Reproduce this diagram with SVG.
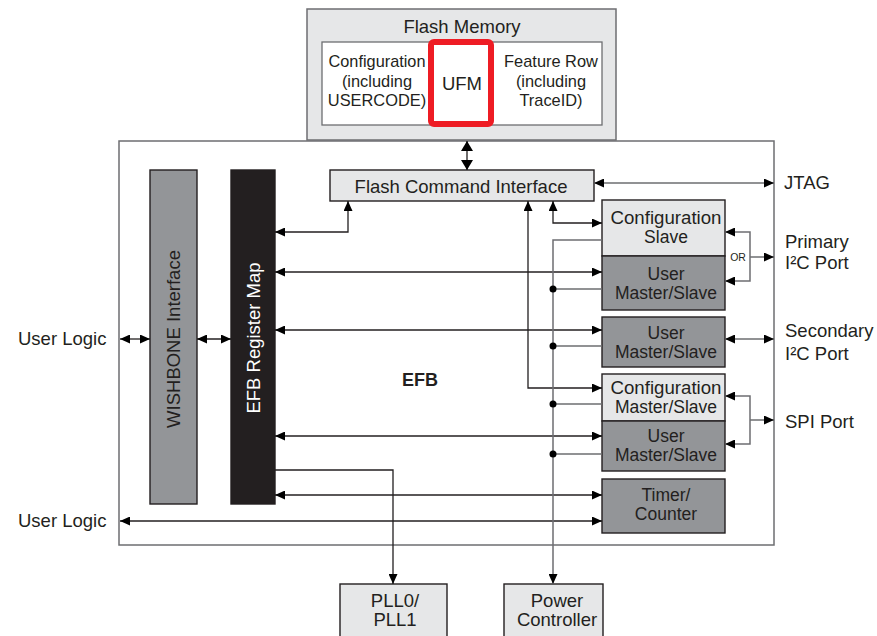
<svg xmlns="http://www.w3.org/2000/svg" width="877" height="636" viewBox="0 0 877 636">
<style>
text{font-family:"Liberation Sans",Arial,Helvetica,sans-serif;fill:#231f20}
.t{font-size:18.5px}
.b{font-size:17.5px}
.s{font-size:16.4px}
.c{text-anchor:middle}
.light{fill:#e6e7e8;stroke:#231f20;stroke-width:1.4}
.mid{fill:#939598;stroke:#231f20;stroke-width:1.4}
.dark{fill:#231f20;stroke:#231f20;stroke-width:1.4}
.k{fill:none;stroke:#231f20;stroke-width:1.3}
.g{fill:none;stroke:#6d6e71;stroke-width:1.5}
</style>
<defs>
<marker id="a" markerUnits="userSpaceOnUse" markerWidth="10" markerHeight="9" refX="10" refY="4.5" orient="auto-start-reverse">
<path d="M0,0 L10,4.5 L0,9 z" fill="#000"/>
</marker>
<marker id="b" markerUnits="userSpaceOnUse" markerWidth="10" markerHeight="12" refX="10" refY="6" orient="auto-start-reverse">
<path d="M0,0 L10,6 L0,12 z" fill="#000"/>
</marker>
</defs>

<g id="flash-memory">
<rect x="307" y="9" width="309" height="131" fill="#e6e7e8" stroke="#6d6e71" stroke-width="1.5"/>
<text class="t c" x="462" y="33">Flash Memory</text>
<rect x="322" y="42" width="280" height="83" fill="#fff" stroke="#6d6e71" stroke-width="1.3"/>
<text class="s c" x="377" y="67" textLength="97" lengthAdjust="spacingAndGlyphs">Configuration</text>
<text class="s c" x="377" y="87">(including</text>
<text class="s c" x="377" y="106">USERCODE)</text>
<rect x="431" y="42" width="60" height="82" rx="3" fill="#fff" stroke="#ee1c24" stroke-width="6"/>
<text class="t c" x="462" y="90">UFM</text>
<text class="s c" x="551" y="67">Feature Row</text>
<text class="s c" x="551" y="87">(including</text>
<text class="s c" x="551" y="106">TraceID)</text>
</g>

<g id="efb">
<rect x="119" y="141" width="655" height="404" fill="#fff" stroke="#6d6e71" stroke-width="1.5"/>
<text x="420" y="386" font-size="18" font-weight="bold" text-anchor="middle">EFB</text>
</g>

<g id="wishbone">
<rect class="mid" x="150" y="170" width="47" height="334"/>
<text class="t c" transform="translate(180,339) rotate(-90)">WISHBONE Interface</text>
</g>

<g id="register-map">
<rect class="dark" x="231" y="170" width="44" height="334"/>
<text class="t c" transform="translate(260,338) rotate(-90)" style="fill:#fff">EFB Register Map</text>
</g>

<g id="flash-command-interface">
<rect class="light" x="330" y="170" width="264" height="31"/>
<text class="t c" x="461" y="193">Flash Command Interface</text>
</g>

<g id="config-slave">
<rect class="light" x="602" y="200" width="123" height="56"/>
<text class="b c" x="666" y="224" textLength="111" lengthAdjust="spacingAndGlyphs">Configuration</text>
<text class="b c" x="666" y="243">Slave</text>
</g>

<g id="user-ms-primary">
<rect class="mid" x="602" y="256" width="123" height="54"/>
<text class="b c" x="666" y="280">User</text>
<text class="b c" x="666" y="299">Master/Slave</text>
</g>

<g id="user-ms-secondary">
<rect class="mid" x="602" y="317" width="123" height="50"/>
<text class="b c" x="666" y="339">User</text>
<text class="b c" x="666" y="358">Master/Slave</text>
</g>

<g id="config-ms">
<rect class="light" x="602" y="374" width="123" height="47"/>
<text class="b c" x="666" y="394" textLength="111" lengthAdjust="spacingAndGlyphs">Configuration</text>
<text class="b c" x="666" y="413">Master/Slave</text>
</g>

<g id="user-ms-spi">
<rect class="mid" x="602" y="421" width="123" height="50"/>
<text class="b c" x="666" y="442">User</text>
<text class="b c" x="666" y="461">Master/Slave</text>
</g>

<g id="timer-counter">
<rect class="mid" x="602" y="479" width="123" height="54"/>
<text class="b c" x="666" y="501">Timer/</text>
<text class="b c" x="666" y="520">Counter</text>
</g>

<g id="pll">
<rect class="light" x="340" y="584" width="107" height="60"/>
<text class="t c" x="395" y="607">PLL0/</text>
<text class="t c" x="395" y="626">PLL1</text>
</g>

<g id="power-controller">
<rect class="light" x="504" y="584" width="99" height="60"/>
<text class="t c" x="557" y="607">Power</text>
<text class="t c" x="557" y="626">Controller</text>
</g>

<g id="labels">
<text class="t" x="18" y="345">User Logic</text>
<text class="t" x="18" y="527">User Logic</text>
<text class="t" x="784" y="189">JTAG</text>
<text class="t" x="785" y="248">Primary</text>
<text class="t" x="785" y="269">I²C Port</text>
<text class="t" x="785" y="337">Secondary</text>
<text class="t" x="785" y="360">I²C Port</text>
<text class="t" x="785" y="428">SPI Port</text>
<text x="738" y="261" font-size="10.5" text-anchor="middle">OR</text>
</g>

<g id="connectors">
<line class="k" x1="467" y1="141" x2="467" y2="170" marker-start="url(#b)" marker-end="url(#b)"/>
<line class="g" x1="594" y1="183" x2="774" y2="183" marker-start="url(#a)" marker-end="url(#a)"/>
<line class="k" x1="120" y1="339" x2="150" y2="339" marker-start="url(#a)" marker-end="url(#a)"/>
<line class="k" x1="197" y1="339" x2="231" y2="339" marker-start="url(#a)" marker-end="url(#a)"/>
<polyline class="k" points="275,232 348,232 348,201" marker-start="url(#a)" marker-end="url(#a)"/>
<line class="k" x1="275" y1="272" x2="602" y2="272" marker-start="url(#a)" marker-end="url(#a)"/>
<line class="k" x1="275" y1="330" x2="602" y2="330" marker-start="url(#a)" marker-end="url(#a)"/>
<line class="k" x1="275" y1="436" x2="602" y2="436" marker-start="url(#a)" marker-end="url(#a)"/>
<line class="k" x1="275" y1="495" x2="602" y2="495" marker-start="url(#a)" marker-end="url(#a)"/>
<line class="k" x1="120" y1="521" x2="602" y2="521" marker-start="url(#a)" marker-end="url(#a)"/>
<polyline class="k" points="275,470 393,470 393,584" marker-end="url(#a)"/>
<polyline class="k" points="528,201 528,388 602,388" marker-start="url(#a)" marker-end="url(#a)"/>
<polyline class="k" points="553,201 553,223 602,223" marker-start="url(#a)" marker-end="url(#a)"/>
<polyline class="g" points="602,240 553,240 553,584" marker-end="url(#a)"/>
<line class="g" x1="553" y1="289" x2="602" y2="289"/>
<line class="g" x1="553" y1="346" x2="602" y2="346"/>
<line class="g" x1="553" y1="404" x2="602" y2="404"/>
<line class="g" x1="553" y1="454" x2="602" y2="454"/>
<circle cx="553" cy="289" r="3.5" fill="#000"/>
<circle cx="553" cy="346" r="3.5" fill="#000"/>
<circle cx="553" cy="404" r="3.5" fill="#000"/>
<circle cx="553" cy="454" r="3.5" fill="#000"/>
<polyline class="g" points="725,232 750,232 750,281 725,281" marker-start="url(#a)" marker-end="url(#a)"/>
<line class="g" x1="750" y1="257" x2="774" y2="257" marker-end="url(#a)"/>
<line class="g" x1="725" y1="339" x2="774" y2="339" marker-start="url(#a)" marker-end="url(#a)"/>
<polyline class="g" points="725,396 750,396 750,444 725,444" marker-start="url(#a)" marker-end="url(#a)"/>
<line class="g" x1="750" y1="420" x2="774" y2="420" marker-end="url(#a)"/>
</g>
</svg>
